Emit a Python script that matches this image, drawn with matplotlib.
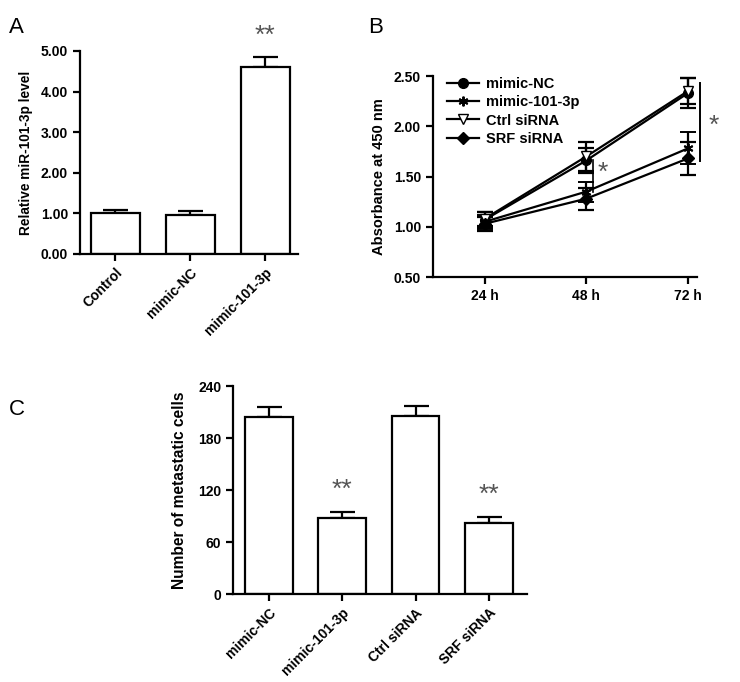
import matplotlib
matplotlib.use("Agg")
import matplotlib.pyplot as plt

plt.rcParams["font.family"] = ["Liberation Sans", "DejaVu Sans"]

# Panel A: relative miR-101-3p level
a_groups = ["Control", "mimic-NC", "mimic-101-3p"]
a_values = [1.00, 0.96, 4.60]
a_errors = [0.08, 0.10, 0.25]

# Panel B: absorbance at 450 nm over time
b_times = ["24 h", "48 h", "72 h"]
b_series = ["mimic-NC", "mimic-101-3p", "Ctrl siRNA", "SRF siRNA"]
b_nc = [1.07, 1.66, 2.33]
b_nc_err = [0.08, 0.12, 0.15]
b_mimic = [1.05, 1.35, 1.78]
b_mimic_err = [0.07, 0.10, 0.16]
b_ctrl = [1.08, 1.70, 2.35]
b_ctrl_err = [0.07, 0.14, 0.13]
b_srf = [1.03, 1.28, 1.68]
b_srf_err = [0.07, 0.11, 0.16]

# Panel C: number of metastatic cells
c_groups = ["mimic-NC", "mimic-101-3p", "Ctrl siRNA", "SRF siRNA"]
c_values = [204, 88, 205, 82]
c_errors = [12, 7, 12, 7]

LW = 1.6
TICK_FS = 10
STAR_COLOR = "#555555"
STAR_FS = 19


def style_axes(ax):
    for side in ("top", "right"):
        ax.spines[side].set_visible(False)
    for side in ("left", "bottom"):
        ax.spines[side].set_linewidth(LW)
    ax.tick_params(width=LW, length=5, direction="out", labelsize=TICK_FS)
    for lbl in ax.get_xticklabels() + ax.get_yticklabels():
        lbl.set_fontweight("bold")


def bar_panel(ax, groups, values, errors):
    x = range(len(groups))
    ax.bar(x, values, width=0.65, color="white", edgecolor="black", linewidth=LW, zorder=2)
    ax.errorbar(x, values, yerr=[[0] * len(errors), errors], fmt="none",
                ecolor="black", elinewidth=LW, capsize=9, capthick=LW, zorder=1)
    ax.set_xticks(list(x))
    ax.set_xticklabels(groups, rotation=45, ha="right", rotation_mode="anchor",
                       fontsize=9.7)


fig = plt.figure(figsize=(7.4, 6.82), dpi=100)

# ---- A ----
axA = fig.add_axes([0.108, 0.6276, 0.295, 0.2977])
bar_panel(axA, a_groups, a_values, a_errors)
axA.set_ylim(0, 5)
axA.set_yticks([0, 1, 2, 3, 4, 5])
axA.set_yticklabels([f"{v:.2f}" for v in [0, 1, 2, 3, 4, 5]])
axA.set_ylabel("Relative miR-101-3p level", fontsize=9.8, fontweight="bold",
               labelpad=6)
axA.text(2, a_values[2] + a_errors[2] + 0.22, "**", ha="center", va="bottom",
         fontsize=STAR_FS, color=STAR_COLOR)
style_axes(axA)
axA.set_xlim(-0.47, 2.44)

# ---- B ----
axB = fig.add_axes([0.585, 0.5938, 0.357, 0.2947])
xb = list(range(len(b_times)))
specs = [
    (b_nc, b_nc_err, dict(marker="o", mfc="black")),
    (b_mimic, b_mimic_err, dict(marker=(6, 2, 0), mfc="black", markeredgewidth=1.4)),
    (b_ctrl, b_ctrl_err, dict(marker="v", mfc="white")),
    (b_srf, b_srf_err, dict(marker="D", mfc="black", markersize=6)),
]
handles = []
for name, (vals, errs, mk) in zip(b_series, specs):
    kw = dict(color="black", mec="black", markersize=7, linewidth=LW)
    kw.update(mk)
    cont = axB.errorbar(xb, vals, yerr=errs, ecolor="black", elinewidth=LW,
                        capsize=6, capthick=LW, label=name, **kw)
    handles.append(cont.lines[0])  # legend shows line + marker only
axB.set_ylim(0.5, 2.5)
axB.set_yticks([0.5, 1.0, 1.5, 2.0, 2.5])
axB.set_yticklabels([f"{v:.2f}" for v in [0.5, 1.0, 1.5, 2.0, 2.5]])
axB.set_xticks(xb)
axB.set_xticklabels(b_times)
axB.set_xlim(-0.51, 2.09)
axB.set_ylabel("Absorbance at 450 nm", fontsize=10.5, fontweight="bold",
               labelpad=6)
# significance marks
axB.plot([1.07, 1.07], [b_mimic[1], b_nc[1]], color="black", lw=1.2)
axB.text(1.16, 1.54, "*", ha="center", va="center", fontsize=STAR_FS, color=STAR_COLOR)
axB.plot([2.12, 2.12], [1.65, 2.43], color="black", lw=1.4, clip_on=False)
axB.text(2.25, 2.00, "*", ha="center", va="center", fontsize=STAR_FS, color=STAR_COLOR)
axB.legend(handles, b_series, loc="upper left", bbox_to_anchor=(0.02, 1.04),
           frameon=False, prop=dict(weight="bold", size=10.5), handlelength=2.2,
           labelspacing=0.3, handletextpad=0.5, borderaxespad=0.2)
style_axes(axB)

# ---- C ----
axC = fig.add_axes([0.315, 0.129, 0.397, 0.305])
bar_panel(axC, c_groups, c_values, c_errors)
axC.set_ylim(0, 240)
axC.set_yticks([0, 60, 120, 180, 240])
axC.set_ylabel("Number of metastatic cells", fontsize=11.2, fontweight="bold",
               labelpad=8)
for i in (1, 3):
    axC.text(i, c_values[i] + c_errors[i] + 11, "**", ha="center", va="bottom",
             fontsize=STAR_FS, color=STAR_COLOR)
style_axes(axC)
axC.set_xlim(-0.49, 3.52)

# panel letters
fig.text(0.012, 0.975, "A", fontsize=16, va="top")
fig.text(0.497, 0.975, "B", fontsize=16, va="top")
fig.text(0.012, 0.415, "C", fontsize=16, va="top")

fig.savefig("out.png", dpi=100)
